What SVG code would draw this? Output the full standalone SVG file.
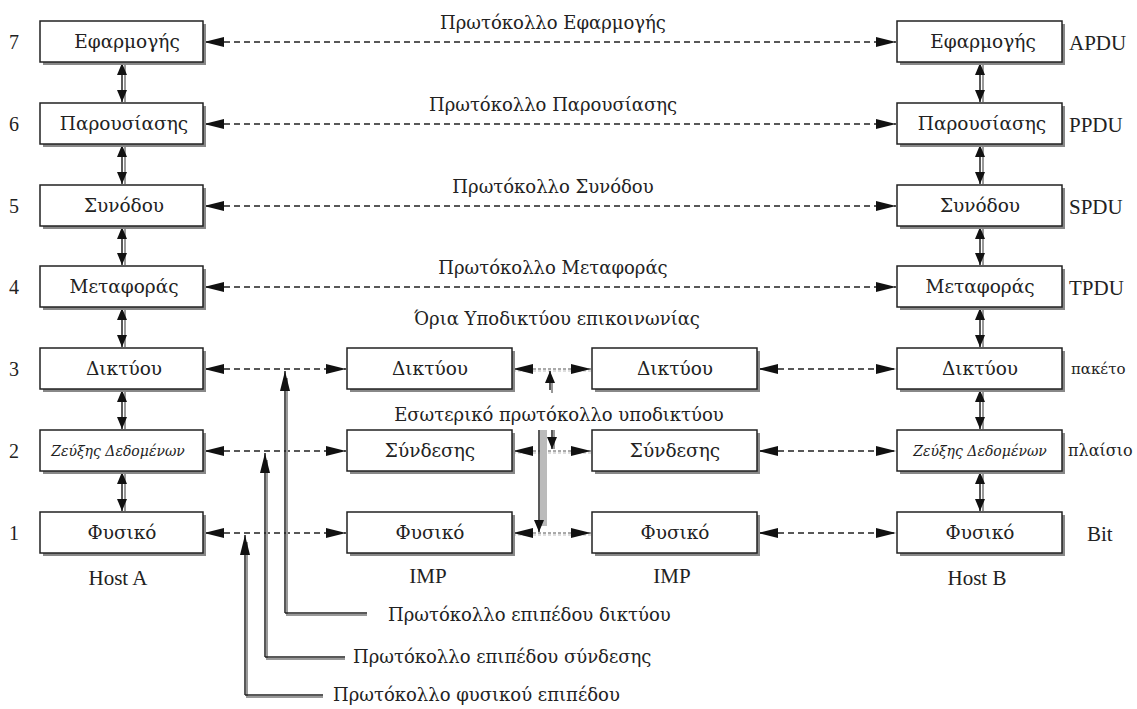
<svg xmlns="http://www.w3.org/2000/svg" width="1137" height="709" viewBox="0 0 1137 709">
<style>
text{font-family:"Liberation Serif","DejaVu Serif",serif;fill:#222;font-size:21px}
.g{font-family:"DejaVu Serif","Liberation Serif",serif;font-size:18px}
.b{font-size:18.5px}
.c{text-anchor:middle}
.box{fill:#fff;stroke:#222;stroke-width:1.5}
.sh{fill:#888}
.dash{stroke:#222;stroke-width:1.4;stroke-dasharray:6 4;fill:none}
.dot{stroke:#555;stroke-width:1;stroke-dasharray:3 2;fill:none}
.dot2{stroke:#bbb;stroke-width:1;stroke-dasharray:3 2;fill:none}
.ln{stroke:#222;stroke-width:1.5;fill:none}
.lg{stroke:#999;stroke-width:2;fill:none}
.small{font-size:14px;font-style:italic}
</style>
<defs>
<marker id="a" markerWidth="20" markerHeight="10" refX="20" refY="5" orient="auto-start-reverse" markerUnits="userSpaceOnUse"><path d="M0,0 L20,5 L0,10 z" fill="#111"/></marker>
<marker id="s" markerWidth="12" markerHeight="10" refX="12" refY="5" orient="auto-start-reverse" markerUnits="userSpaceOnUse"><path d="M0,0 L12,5 L0,10 z" fill="#111"/></marker>
</defs>

<g id="layer-numbers">
<text x="14" y="49" class="c" style="font-size:20px">7</text>
<text x="14" y="131" class="c" style="font-size:20px">6</text>
<text x="14" y="213" class="c" style="font-size:20px">5</text>
<text x="14" y="294" class="c" style="font-size:20px">4</text>
<text x="14" y="376" class="c" style="font-size:20px">3</text>
<text x="14" y="458" class="c" style="font-size:20px">2</text>
<text x="14" y="540" class="c" style="font-size:20px">1</text>
</g>

<g id="connectors">
<line x1="204" y1="42" x2="896" y2="42" class="dash" marker-start="url(#a)" marker-end="url(#a)"/>
<line x1="204" y1="124" x2="896" y2="124" class="dash" marker-start="url(#a)" marker-end="url(#a)"/>
<line x1="204" y1="206" x2="896" y2="206" class="dash" marker-start="url(#a)" marker-end="url(#a)"/>
<line x1="204" y1="287" x2="896" y2="287" class="dash" marker-start="url(#a)" marker-end="url(#a)"/>
<line x1="204" y1="369" x2="346" y2="369" class="dash" marker-start="url(#a)" marker-end="url(#a)"/>
<line x1="204" y1="451" x2="346" y2="451" class="dash" marker-start="url(#a)" marker-end="url(#a)"/>
<line x1="204" y1="533" x2="346" y2="533" class="dash" marker-start="url(#a)" marker-end="url(#a)"/>
<line x1="758" y1="369" x2="896" y2="369" class="dash" marker-start="url(#a)" marker-end="url(#a)"/>
<line x1="758" y1="451" x2="896" y2="451" class="dash" marker-start="url(#a)" marker-end="url(#a)"/>
<line x1="758" y1="533" x2="896" y2="533" class="dash" marker-start="url(#a)" marker-end="url(#a)"/>
<line x1="513" y1="371" x2="591" y2="371" class="dot2"/>
<line x1="513" y1="453" x2="591" y2="453" class="dot2"/>
<line x1="513" y1="535" x2="591" y2="535" class="dot2"/>
<line x1="513" y1="369" x2="591" y2="369" class="dot" marker-start="url(#a)" marker-end="url(#a)"/>
<line x1="513" y1="451" x2="591" y2="451" class="dot" marker-start="url(#a)" marker-end="url(#a)"/>
<line x1="513" y1="533" x2="591" y2="533" class="dot" marker-start="url(#a)" marker-end="url(#a)"/>
<line x1="552" y1="393" x2="552" y2="381" class="lg"/>
<line x1="550" y1="390" x2="550" y2="371" class="ln" marker-end="url(#s)"/>
<line x1="554" y1="430" x2="554" y2="449" class="lg"/>
<line x1="552" y1="430" x2="552" y2="449" class="ln" marker-end="url(#s)"/>
<rect x="540" y="430" width="7" height="96" fill="#bbb"/>
<line x1="539" y1="430" x2="539" y2="532" class="ln" marker-end="url(#s)"/>
<g>
<line x1="125" y1="65" x2="125" y2="102" class="lg"/>
<line x1="122" y1="63" x2="122" y2="102" class="ln" marker-start="url(#s)" marker-end="url(#s)"/>
<line x1="125" y1="147" x2="125" y2="184" class="lg"/>
<line x1="122" y1="145" x2="122" y2="184" class="ln" marker-start="url(#s)" marker-end="url(#s)"/>
<line x1="125" y1="229" x2="125" y2="265" class="lg"/>
<line x1="122" y1="227" x2="122" y2="265" class="ln" marker-start="url(#s)" marker-end="url(#s)"/>
<line x1="125" y1="310" x2="125" y2="347" class="lg"/>
<line x1="122" y1="308" x2="122" y2="347" class="ln" marker-start="url(#s)" marker-end="url(#s)"/>
<line x1="125" y1="392" x2="125" y2="429" class="lg"/>
<line x1="122" y1="390" x2="122" y2="429" class="ln" marker-start="url(#s)" marker-end="url(#s)"/>
<line x1="125" y1="474" x2="125" y2="511" class="lg"/>
<line x1="122" y1="472" x2="122" y2="511" class="ln" marker-start="url(#s)" marker-end="url(#s)"/>
</g>
<g>
<line x1="983" y1="65" x2="983" y2="102" class="lg"/>
<line x1="980" y1="63" x2="980" y2="102" class="ln" marker-start="url(#s)" marker-end="url(#s)"/>
<line x1="983" y1="147" x2="983" y2="184" class="lg"/>
<line x1="980" y1="145" x2="980" y2="184" class="ln" marker-start="url(#s)" marker-end="url(#s)"/>
<line x1="983" y1="229" x2="983" y2="265" class="lg"/>
<line x1="980" y1="227" x2="980" y2="265" class="ln" marker-start="url(#s)" marker-end="url(#s)"/>
<line x1="983" y1="310" x2="983" y2="347" class="lg"/>
<line x1="980" y1="308" x2="980" y2="347" class="ln" marker-start="url(#s)" marker-end="url(#s)"/>
<line x1="983" y1="392" x2="983" y2="429" class="lg"/>
<line x1="980" y1="390" x2="980" y2="429" class="ln" marker-start="url(#s)" marker-end="url(#s)"/>
<line x1="983" y1="474" x2="983" y2="511" class="lg"/>
<line x1="980" y1="472" x2="980" y2="511" class="ln" marker-start="url(#s)" marker-end="url(#s)"/>
</g>
<polyline points="287,378 287,615 367,615" class="lg"/>
<polyline points="285,613 285,371" class="ln" marker-end="url(#a)"/>
<line x1="285" y1="613" x2="367" y2="613" class="ln"/>
<polyline points="267,460 267,659 345,659" class="lg"/>
<polyline points="265,657 265,453" class="ln" marker-end="url(#a)"/>
<line x1="265" y1="657" x2="345" y2="657" class="ln"/>
<polyline points="247,542 247,697 323,697" class="lg"/>
<polyline points="245,695 245,535" class="ln" marker-end="url(#a)"/>
<line x1="245" y1="695" x2="323" y2="695" class="ln"/>
</g>

<g id="protocol-labels">
<text x="553" y="29" class="c g">Πρωτόκολλο Εφαρμογής</text>
<text x="553" y="111" class="c g">Πρωτόκολλο Παρουσίασης</text>
<text x="553" y="193" class="c g">Πρωτόκολλο Συνόδου</text>
<text x="553" y="274" class="c g">Πρωτόκολλο Μεταφοράς</text>
<text x="557" y="325" class="c g">Όρια Υποδικτύου επικοινωνίας</text>
<text x="559" y="421" class="c g">Εσωτερικό πρωτόκολλο υποδικτύου</text>
<text x="388" y="621" class="g">Πρωτόκολλο επιπέδου δικτύου</text>
<text x="353" y="663" class="g">Πρωτόκολλο επιπέδου σύνδεσης</text>
<text x="333" y="701" class="g">Πρωτόκολλο φυσικού επιπέδου</text>
</g>

<g id="hostA">
<g id="hostA-7"><rect x="43" y="24" width="163" height="41" class="sh"/><rect x="40" y="21" width="163" height="41" class="box"/><text x="127" y="48" class="c g b">Εφαρμογής</text></g>
<g id="hostA-6"><rect x="43" y="106" width="163" height="41" class="sh"/><rect x="40" y="103" width="163" height="41" class="box"/><text x="124" y="130" class="c g b">Παρουσίασης</text></g>
<g id="hostA-5"><rect x="43" y="188" width="163" height="41" class="sh"/><rect x="40" y="185" width="163" height="41" class="box"/><text x="124" y="212" class="c g b">Συνόδου</text></g>
<g id="hostA-4"><rect x="43" y="269" width="163" height="41" class="sh"/><rect x="40" y="266" width="163" height="41" class="box"/><text x="124" y="293" class="c g b">Μεταφοράς</text></g>
<g id="hostA-3"><rect x="43" y="351" width="163" height="41" class="sh"/><rect x="40" y="348" width="163" height="41" class="box"/><text x="124" y="375" class="c g b">Δικτύου</text></g>
<g id="hostA-2"><rect x="43" y="433" width="163" height="41" class="sh"/><rect x="40" y="430" width="163" height="41" class="box"/><text x="118" y="456" class="c g small">Ζεύξης Δεδομένων</text></g>
<g id="hostA-1"><rect x="43" y="515" width="163" height="41" class="sh"/><rect x="40" y="512" width="163" height="41" class="box"/><text x="122" y="539" class="c g b">Φυσικό</text></g>
<text x="118" y="585" class="c">Host A</text>
</g>

<g id="imp1">
<g id="imp1-3"><rect x="350" y="351" width="165" height="41" class="sh"/><rect x="347" y="348" width="165" height="41" class="box"/><text x="430" y="375" class="c g b">Δικτύου</text></g>
<g id="imp1-2"><rect x="350" y="433" width="165" height="41" class="sh"/><rect x="347" y="430" width="165" height="41" class="box"/><text x="430" y="457" class="c g b">Σύνδεσης</text></g>
<g id="imp1-1"><rect x="350" y="515" width="165" height="41" class="sh"/><rect x="347" y="512" width="165" height="41" class="box"/><text x="430" y="539" class="c g b">Φυσικό</text></g>
<text x="428" y="583" class="c">IMP</text>
</g>

<g id="imp2">
<g id="imp2-3"><rect x="595" y="351" width="165" height="41" class="sh"/><rect x="592" y="348" width="165" height="41" class="box"/><text x="675" y="375" class="c g b">Δικτύου</text></g>
<g id="imp2-2"><rect x="595" y="433" width="165" height="41" class="sh"/><rect x="592" y="430" width="165" height="41" class="box"/><text x="675" y="457" class="c g b">Σύνδεσης</text></g>
<g id="imp2-1"><rect x="595" y="515" width="165" height="41" class="sh"/><rect x="592" y="512" width="165" height="41" class="box"/><text x="675" y="539" class="c g b">Φυσικό</text></g>
<text x="672" y="583" class="c">IMP</text>
</g>

<g id="hostB">
<g id="hostB-7"><rect x="900" y="24" width="165" height="41" class="sh"/><rect x="897" y="21" width="165" height="41" class="box"/><text x="983" y="48" class="c g b">Εφαρμογής</text></g>
<g id="hostB-6"><rect x="900" y="106" width="165" height="41" class="sh"/><rect x="897" y="103" width="165" height="41" class="box"/><text x="982" y="130" class="c g b">Παρουσίασης</text></g>
<g id="hostB-5"><rect x="900" y="188" width="165" height="41" class="sh"/><rect x="897" y="185" width="165" height="41" class="box"/><text x="980" y="212" class="c g b">Συνόδου</text></g>
<g id="hostB-4"><rect x="900" y="269" width="165" height="41" class="sh"/><rect x="897" y="266" width="165" height="41" class="box"/><text x="980" y="293" class="c g b">Μεταφοράς</text></g>
<g id="hostB-3"><rect x="900" y="351" width="165" height="41" class="sh"/><rect x="897" y="348" width="165" height="41" class="box"/><text x="980" y="375" class="c g b">Δικτύου</text></g>
<g id="hostB-2"><rect x="900" y="433" width="165" height="41" class="sh"/><rect x="897" y="430" width="165" height="41" class="box"/><text x="980" y="456" class="c g small">Ζεύξης Δεδομένων</text></g>
<g id="hostB-1"><rect x="900" y="515" width="165" height="41" class="sh"/><rect x="897" y="512" width="165" height="41" class="box"/><text x="980" y="539" class="c g b">Φυσικό</text></g>
<text x="977" y="585" class="c">Host B</text>
</g>

<g id="pdu-labels">
<text x="1069" y="50">APDU</text>
<text x="1069" y="132">PPDU</text>
<text x="1069" y="214">SPDU</text>
<text x="1069" y="295">TPDU</text>
<text x="1071" y="374" class="g" style="font-size:15px">πακέτο</text>
<text x="1068" y="456" class="g" style="font-size:16px">πλαίσιο</text>
<text x="1087" y="541">Bit</text>
</g>
</svg>
